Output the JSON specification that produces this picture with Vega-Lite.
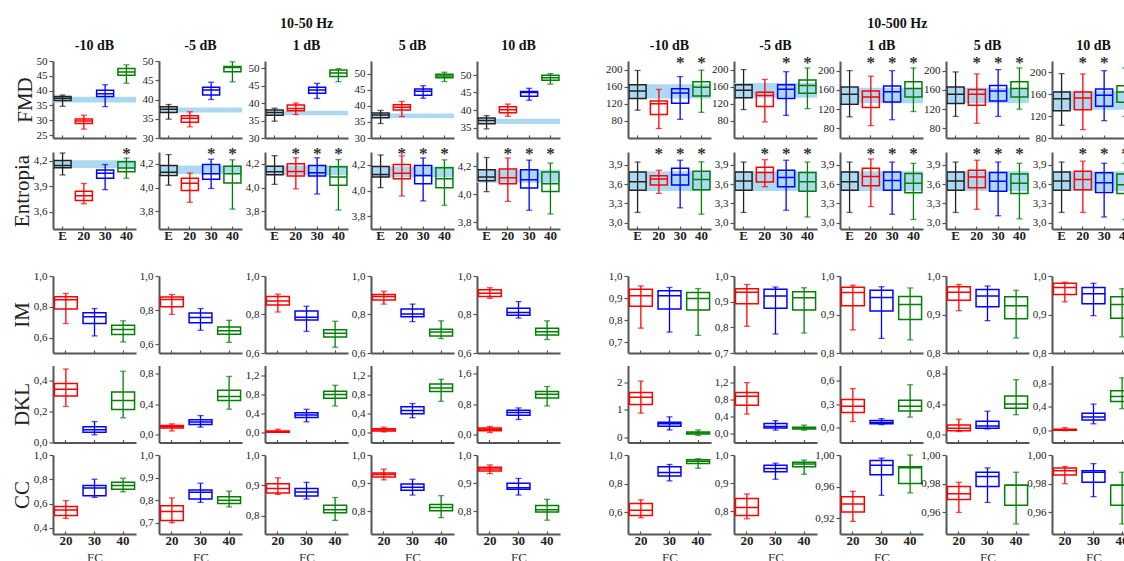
{
"$schema":"https://vega.github.io/schema/vega-lite/v6.json",
"padding":{"left":11,"top":17,"right":0,"bottom":0},
"config":{
 "locale":{"number":{"decimal":",","thousands":".","grouping":[3],"currency":["",""]}},
 "font":"Liberation Serif",
 "view":{"stroke":null},
 "legend":{"disable":true},
 "range":{"category":["#ff0000","#0000ff","#008000","#222222"]},
 "scale":{"bandPaddingInner":0.2,"bandPaddingOuter":0.05},
 "axis":{"grid":false,"domainColor":"#555555","domainWidth":2,"tickColor":"#555555","tickWidth":1.2,"labelFont":"Liberation Serif","labelColor":"#222222"},
 "axisY":{"tickSize":4,"tickCount":10,"labelFontSize":11,"labelPadding":2,"labelOverlap":false,"titleFont":"Liberation Serif","titleFontSize":21,"titleFontWeight":"normal","titleColor":"#222222","titlePadding":1},
 "axisX":{"tickSize":-3,"labelFontSize":13,"labelFontWeight":"bold","labelAngle":0,"labelPadding":3,"titleFont":"Liberation Serif","titleFontSize":13,"titleFontWeight":"normal","titlePadding":4,"titleColor":"#333333"},
 "title":{"font":"Liberation Serif","fontSize":14,"fontWeight":"bold","color":"#111111","offset":1},
 "rect":{"color":"#acd9f1"},
 "rule":{"strokeWidth":1.3},
 "tick":{"thickness":1.3},
 "bar":{"filled":false,"strokeWidth":1.5},
 "text":{"font":"Liberation Serif","fontSize":17,"fontWeight":"bold","baseline":"alphabetic","dy":7,"align":"center"}
},
"data":{"values":[
{"p":"aF1","c":"E","lo":34.7,"q1":36.7,"md":37.4,"q3":38,"hi":38.5,"b1":36,"b2":37.9,"st":""},
{"p":"aF1","c":"20","lo":27,"q1":28.9,"md":29.7,"q3":30.4,"hi":31.7,"st":""},
{"p":"aF1","c":"30","lo":34.6,"q1":38,"md":38.9,"q3":40.1,"hi":42,"st":""},
{"p":"aF1","c":"40","lo":42.5,"q1":45.2,"md":46.3,"q3":47.5,"hi":48.7,"st":""},
{"p":"aF2","c":"E","lo":34.9,"q1":36.6,"md":37.5,"q3":38.1,"hi":38.7,"b1":36.6,"b2":37.9,"st":""},
{"p":"aF2","c":"20","lo":32.9,"q1":34.1,"md":35.1,"q3":35.8,"hi":36.8,"st":""},
{"p":"aF2","c":"30","lo":40,"q1":41.2,"md":42.5,"q3":43.2,"hi":44.5,"st":""},
{"p":"aF2","c":"40","lo":44.6,"q1":47.2,"md":48.3,"q3":48.6,"hi":49.8,"st":""},
{"p":"aF3","c":"E","lo":34.8,"q1":36.5,"md":37.3,"q3":38,"hi":38.5,"b1":36.5,"b2":37.8,"st":""},
{"p":"aF3","c":"20","lo":36.7,"q1":37.8,"md":38.4,"q3":39.4,"hi":40,"st":""},
{"p":"aF3","c":"30","lo":41.3,"q1":42.8,"md":43.7,"q3":44.5,"hi":45.6,"st":""},
{"p":"aF3","c":"40","lo":46.1,"q1":47.6,"md":48.6,"q3":49.4,"hi":49.8,"st":""},
{"p":"aF4","c":"E","lo":34.5,"q1":36.3,"md":37.2,"q3":37.8,"hi":38.6,"b1":36.2,"b2":37.6,"st":""},
{"p":"aF4","c":"20","lo":36.7,"q1":38.7,"md":39.6,"q3":40.4,"hi":41.4,"st":""},
{"p":"aF4","c":"30","lo":42.4,"q1":43.3,"md":44.6,"q3":45.3,"hi":46.3,"st":""},
{"p":"aF4","c":"40","lo":47.6,"q1":48.8,"md":49.3,"q3":49.9,"hi":50.5,"st":""},
{"p":"aF5","c":"E","lo":34.6,"q1":36.1,"md":37,"q3":37.7,"hi":38.4,"b1":36,"b2":37.5,"st":""},
{"p":"aF5","c":"20","lo":38.2,"q1":39.2,"md":40.1,"q3":40.9,"hi":41.7,"st":""},
{"p":"aF5","c":"30","lo":42.8,"q1":43.9,"md":45,"q3":45.3,"hi":46.2,"st":""},
{"p":"aF5","c":"40","lo":47.4,"q1":48.5,"md":49.2,"q3":49.9,"hi":50.4,"st":""},
{"p":"aE1","c":"E","lo":4.032,"q1":4.116,"md":4.143,"q3":4.2,"hi":4.288,"b1":4.112,"b2":4.204,"st":""},
{"p":"aE1","c":"20","lo":3.695,"q1":3.734,"md":3.79,"q3":3.84,"hi":3.932,"st":""},
{"p":"aE1","c":"30","lo":3.86,"q1":3.994,"md":4.051,"q3":4.089,"hi":4.154,"st":""},
{"p":"aE1","c":"40","lo":3.994,"q1":4.07,"md":4.112,"q3":4.185,"hi":4.23,"st":"*"},
{"p":"aE2","c":"E","lo":4.02,"q1":4.101,"md":4.13,"q3":4.187,"hi":4.278,"b1":4.112,"b2":4.187,"st":""},
{"p":"aE2","c":"20","lo":3.875,"q1":3.974,"md":4.036,"q3":4.078,"hi":4.122,"st":""},
{"p":"aE2","c":"30","lo":3.992,"q1":4.07,"md":4.117,"q3":4.195,"hi":4.239,"st":"*"},
{"p":"aE2","c":"40","lo":3.818,"q1":4.039,"md":4.117,"q3":4.179,"hi":4.234,"st":"*"},
{"p":"aE3","c":"E","lo":4.027,"q1":4.108,"md":4.134,"q3":4.18,"hi":4.269,"b1":4.103,"b2":4.185,"st":""},
{"p":"aE3","c":"20","lo":3.989,"q1":4.098,"md":4.136,"q3":4.2,"hi":4.251,"st":"*"},
{"p":"aE3","c":"30","lo":3.945,"q1":4.098,"md":4.124,"q3":4.187,"hi":4.251,"st":"*"},
{"p":"aE3","c":"40","lo":3.81,"q1":4.019,"md":4.09,"q3":4.175,"hi":4.236,"st":"*"},
{"p":"aE4","c":"E","lo":4.022,"q1":4.105,"md":4.125,"q3":4.187,"hi":4.277,"b1":4.105,"b2":4.187,"st":""},
{"p":"aE4","c":"20","lo":3.957,"q1":4.092,"md":4.135,"q3":4.203,"hi":4.27,"st":"*"},
{"p":"aE4","c":"30","lo":3.919,"q1":4.053,"md":4.117,"q3":4.195,"hi":4.254,"st":"*"},
{"p":"aE4","c":"40","lo":3.885,"q1":4.022,"md":4.092,"q3":4.177,"hi":4.239,"st":"*"},
{"p":"aE5","c":"E","lo":4.017,"q1":4.095,"md":4.122,"q3":4.173,"hi":4.261,"b1":4.08,"b2":4.173,"st":""},
{"p":"aE5","c":"20","lo":3.947,"q1":4.074,"md":4.116,"q3":4.179,"hi":4.257,"st":"*"},
{"p":"aE5","c":"30","lo":3.884,"q1":4.042,"md":4.101,"q3":4.173,"hi":4.242,"st":"*"},
{"p":"aE5","c":"40","lo":3.857,"q1":4.017,"md":4.074,"q3":4.158,"hi":4.221,"st":"*"},
{"p":"aI1","c":"20","lo":0.691,"q1":0.785,"md":0.845,"q3":0.865,"hi":0.887},
{"p":"aI1","c":"30","lo":0.611,"q1":0.691,"md":0.735,"q3":0.761,"hi":0.789},
{"p":"aI1","c":"40","lo":0.572,"q1":0.62,"md":0.652,"q3":0.68,"hi":0.709},
{"p":"aI2","c":"20","lo":0.776,"q1":0.82,"md":0.863,"q3":0.878,"hi":0.892},
{"p":"aI2","c":"30","lo":0.683,"q1":0.727,"md":0.757,"q3":0.784,"hi":0.81},
{"p":"aI2","c":"40","lo":0.612,"q1":0.659,"md":0.68,"q3":0.702,"hi":0.741},
{"p":"aI3","c":"20","lo":0.813,"q1":0.849,"md":0.87,"q3":0.893,"hi":0.906},
{"p":"aI3","c":"30","lo":0.712,"q1":0.772,"md":0.786,"q3":0.818,"hi":0.843},
{"p":"aI3","c":"40","lo":0.63,"q1":0.683,"md":0.703,"q3":0.721,"hi":0.765},
{"p":"aI4","c":"20","lo":0.854,"q1":0.875,"md":0.893,"q3":0.904,"hi":0.921},
{"p":"aI4","c":"30","lo":0.763,"q1":0.788,"md":0.802,"q3":0.828,"hi":0.854},
{"p":"aI4","c":"40","lo":0.675,"q1":0.688,"md":0.709,"q3":0.723,"hi":0.767},
{"p":"aI5","c":"20","lo":0.884,"q1":0.893,"md":0.91,"q3":0.928,"hi":0.939},
{"p":"aI5","c":"30","lo":0.781,"q1":0.796,"md":0.811,"q3":0.832,"hi":0.867},
{"p":"aI5","c":"40","lo":0.67,"q1":0.693,"md":0.711,"q3":0.728,"hi":0.767},
{"p":"aD1","c":"20","lo":0.234,"q1":0.302,"md":0.345,"q3":0.383,"hi":0.477},
{"p":"aD1","c":"30","lo":0.05,"q1":0.066,"md":0.083,"q3":0.103,"hi":0.136},
{"p":"aD1","c":"40","lo":0.16,"q1":0.214,"md":0.273,"q3":0.328,"hi":0.463},
{"p":"aD2","c":"20","lo":0.05,"q1":0.088,"md":0.104,"q3":0.121,"hi":0.142},
{"p":"aD2","c":"30","lo":0.1,"q1":0.133,"md":0.167,"q3":0.196,"hi":0.25},
{"p":"aD2","c":"40","lo":0.333,"q1":0.446,"md":0.496,"q3":0.579,"hi":0.758},
{"p":"aD3","c":"20","lo":0.011,"q1":0.011,"md":0.023,"q3":0.04,"hi":0.074},
{"p":"aD3","c":"30","lo":0.229,"q1":0.32,"md":0.371,"q3":0.42,"hi":0.49},
{"p":"aD3","c":"40","lo":0.56,"q1":0.72,"md":0.8,"q3":0.863,"hi":0.989},
{"p":"aD4","c":"20","lo":0.02,"q1":0.039,"md":0.059,"q3":0.085,"hi":0.118},
{"p":"aD4","c":"30","lo":0.315,"q1":0.4,"md":0.466,"q3":0.544,"hi":0.61},
{"p":"aD4","c":"40","lo":0.656,"q1":0.859,"md":0.931,"q3":1.016,"hi":1.115},
{"p":"aD5","c":"20","lo":0.059,"q1":0.104,"md":0.141,"q3":0.179,"hi":0.217},
{"p":"aD5","c":"30","lo":0.397,"q1":0.51,"md":0.577,"q3":0.638,"hi":0.698},
{"p":"aD5","c":"40","lo":0.75,"q1":0.953,"md":1.051,"q3":1.126,"hi":1.254},
{"p":"aC1","c":"20","lo":0.478,"q1":0.503,"md":0.547,"q3":0.576,"hi":0.625},
{"p":"aC1","c":"30","lo":0.651,"q1":0.664,"md":0.728,"q3":0.749,"hi":0.801},
{"p":"aC1","c":"40","lo":0.697,"q1":0.718,"md":0.749,"q3":0.775,"hi":0.809},
{"p":"aC2","c":"20","lo":0.7,"q1":0.71,"md":0.75,"q3":0.775,"hi":0.81},
{"p":"aC2","c":"30","lo":0.79,"q1":0.805,"md":0.835,"q3":0.845,"hi":0.875},
{"p":"aC2","c":"40","lo":0.77,"q1":0.785,"md":0.8,"q3":0.815,"hi":0.84},
{"p":"aC3","c":"20","lo":0.87,"q1":0.875,"md":0.89,"q3":0.905,"hi":0.925},
{"p":"aC3","c":"30","lo":0.855,"q1":0.865,"md":0.878,"q3":0.89,"hi":0.91},
{"p":"aC3","c":"40","lo":0.785,"q1":0.81,"md":0.82,"q3":0.835,"hi":0.86},
{"p":"aC4","c":"20","lo":0.912,"q1":0.922,"md":0.931,"q3":0.936,"hi":0.95},
{"p":"aC4","c":"30","lo":0.858,"q1":0.875,"md":0.886,"q3":0.897,"hi":0.914},
{"p":"aC4","c":"40","lo":0.778,"q1":0.802,"md":0.814,"q3":0.825,"hi":0.856},
{"p":"aC5","c":"20","lo":0.934,"q1":0.943,"md":0.95,"q3":0.957,"hi":0.965},
{"p":"aC5","c":"30","lo":0.858,"q1":0.879,"md":0.884,"q3":0.9,"hi":0.917},
{"p":"aC5","c":"40","lo":0.769,"q1":0.798,"md":0.806,"q3":0.821,"hi":0.843},
{"p":"bF1","c":"E","lo":105,"q1":132.1,"md":150,"q3":164.3,"hi":197.9,"b1":132.1,"b2":165.7,"st":""},
{"p":"bF1","c":"20","lo":62.1,"q1":95,"md":120,"q3":126.4,"hi":153.6,"st":""},
{"p":"bF1","c":"30","lo":83.6,"q1":121.4,"md":145,"q3":155,"hi":183.6,"st":"*"},
{"p":"bF1","c":"40","lo":100,"q1":137.9,"md":158.6,"q3":171.4,"hi":198.6,"st":"*"},
{"p":"bF2","c":"E","lo":106.5,"q1":133.8,"md":151.8,"q3":164.7,"hi":200,"b1":133.8,"b2":168.3,"st":""},
{"p":"bF2","c":"20","lo":77.7,"q1":113.7,"md":139.6,"q3":146.8,"hi":177,"st":""},
{"p":"bF2","c":"30","lo":92.8,"q1":132.4,"md":154,"q3":164.7,"hi":195,"st":"*"},
{"p":"bF2","c":"40","lo":108.6,"q1":144.6,"md":162.6,"q3":175.5,"hi":203.6,"st":"*"},
{"p":"bF3","c":"E","lo":104,"q1":130.1,"md":150.7,"q3":165.8,"hi":200,"b1":132.2,"b2":164.4,"st":""},
{"p":"bF3","c":"20","lo":85.6,"q1":123.3,"md":145.2,"q3":157.5,"hi":188.4,"st":"*"},
{"p":"bF3","c":"30","lo":98,"q1":134.9,"md":156.2,"q3":167.8,"hi":200,"st":"*"},
{"p":"bF3","c":"40","lo":115,"q1":145.2,"md":163,"q3":176.7,"hi":205.5,"st":"*"},
{"p":"bF4","c":"E","lo":104.8,"q1":131.5,"md":150.7,"q3":165.8,"hi":197.3,"b1":132.2,"b2":164.4,"st":""},
{"p":"bF4","c":"20","lo":90.4,"q1":128.1,"md":150.7,"q3":161,"hi":193.2,"st":"*"},
{"p":"bF4","c":"30","lo":104.8,"q1":137,"md":157.5,"q3":169.2,"hi":202,"st":"*"},
{"p":"bF4","c":"40","lo":119.9,"q1":145.2,"md":163,"q3":176.7,"hi":205.5,"st":"*"},
{"p":"bF5","c":"E","lo":103,"q1":129.7,"md":151.5,"q3":163.6,"hi":197,"b1":131.5,"b2":166,"st":""},
{"p":"bF5","c":"20","lo":95.2,"q1":131.5,"md":152.7,"q3":163.6,"hi":196.4,"st":"*"},
{"p":"bF5","c":"30","lo":111.5,"q1":137.6,"md":157.6,"q3":169,"hi":202.4,"st":"*"},
{"p":"bF5","c":"40","lo":119.4,"q1":144.8,"md":163.6,"q3":175.2,"hi":207.3,"st":""},
{"p":"bE1","c":"E","lo":3.158,"q1":3.503,"md":3.637,"q3":3.79,"hi":3.943,"b1":3.493,"b2":3.8,"st":""},
{"p":"bE1","c":"20","lo":3.455,"q1":3.584,"md":3.68,"q3":3.728,"hi":3.814,"st":"*"},
{"p":"bE1","c":"30","lo":3.23,"q1":3.584,"md":3.742,"q3":3.847,"hi":3.972,"st":"*"},
{"p":"bE1","c":"40","lo":3.13,"q1":3.512,"md":3.67,"q3":3.8,"hi":3.948,"st":"*"},
{"p":"bE2","c":"E","lo":3.158,"q1":3.503,"md":3.647,"q3":3.79,"hi":3.943,"b1":3.493,"b2":3.8,"st":""},
{"p":"bE2","c":"20","lo":3.56,"q1":3.632,"md":3.78,"q3":3.862,"hi":3.98,"st":"*"},
{"p":"bE2","c":"30","lo":3.192,"q1":3.56,"md":3.704,"q3":3.814,"hi":3.972,"st":"*"},
{"p":"bE2","c":"40","lo":3.087,"q1":3.489,"md":3.637,"q3":3.78,"hi":3.943,"st":"*"},
{"p":"bE3","c":"E","lo":3.158,"q1":3.503,"md":3.637,"q3":3.79,"hi":3.943,"b1":3.493,"b2":3.8,"st":""},
{"p":"bE3","c":"20","lo":3.249,"q1":3.575,"md":3.718,"q3":3.847,"hi":3.991,"st":"*"},
{"p":"bE3","c":"30","lo":3.13,"q1":3.503,"md":3.656,"q3":3.79,"hi":3.943,"st":"*"},
{"p":"bE3","c":"40","lo":3.048,"q1":3.465,"md":3.613,"q3":3.766,"hi":3.924,"st":"*"},
{"p":"bE4","c":"E","lo":3.158,"q1":3.503,"md":3.647,"q3":3.79,"hi":3.943,"b1":3.493,"b2":3.8,"st":""},
{"p":"bE4","c":"20","lo":3.206,"q1":3.541,"md":3.709,"q3":3.814,"hi":3.972,"st":"*"},
{"p":"bE4","c":"30","lo":3.106,"q1":3.489,"md":3.646,"q3":3.78,"hi":3.943,"st":"*"},
{"p":"bE4","c":"40","lo":3.058,"q1":3.455,"md":3.613,"q3":3.756,"hi":3.924,"st":"*"},
{"p":"bE5","c":"E","lo":3.158,"q1":3.503,"md":3.647,"q3":3.79,"hi":3.943,"b1":3.493,"b2":3.8,"st":""},
{"p":"bE5","c":"20","lo":3.158,"q1":3.512,"md":3.67,"q3":3.8,"hi":3.957,"st":"*"},
{"p":"bE5","c":"30","lo":3.087,"q1":3.469,"md":3.622,"q3":3.776,"hi":3.924,"st":"*"},
{"p":"bE5","c":"40","lo":3.048,"q1":3.455,"md":3.589,"q3":3.756,"hi":3.924,"st":"*"},
{"p":"bI1","c":"20","lo":0.763,"q1":0.862,"md":0.91,"q3":0.94,"hi":0.955},
{"p":"bI1","c":"30","lo":0.745,"q1":0.85,"md":0.91,"q3":0.933,"hi":0.948},
{"p":"bI1","c":"40","lo":0.73,"q1":0.846,"md":0.898,"q3":0.925,"hi":0.943},
{"p":"bI2","c":"20","lo":0.804,"q1":0.892,"md":0.937,"q3":0.95,"hi":0.967},
{"p":"bI2","c":"30","lo":0.774,"q1":0.874,"md":0.922,"q3":0.948,"hi":0.957},
{"p":"bI2","c":"40","lo":0.778,"q1":0.868,"md":0.915,"q3":0.939,"hi":0.954},
{"p":"bI3","c":"20","lo":0.86,"q1":0.923,"md":0.957,"q3":0.971,"hi":0.976},
{"p":"bI3","c":"30","lo":0.838,"q1":0.909,"md":0.944,"q3":0.963,"hi":0.972},
{"p":"bI3","c":"40","lo":0.834,"q1":0.887,"md":0.926,"q3":0.947,"hi":0.969},
{"p":"bI4","c":"20","lo":0.91,"q1":0.937,"md":0.958,"q3":0.972,"hi":0.978},
{"p":"bI4","c":"30","lo":0.884,"q1":0.92,"md":0.948,"q3":0.965,"hi":0.974},
{"p":"bI4","c":"40","lo":0.839,"q1":0.889,"md":0.923,"q3":0.946,"hi":0.963},
{"p":"bI5","c":"20","lo":0.933,"q1":0.952,"md":0.97,"q3":0.981,"hi":0.984},
{"p":"bI5","c":"30","lo":0.897,"q1":0.928,"md":0.954,"q3":0.97,"hi":0.981},
{"p":"bI5","c":"40","lo":0.842,"q1":0.89,"md":0.926,"q3":0.946,"hi":0.967},
{"p":"bD1","c":"20","lo":0.867,"q1":1.178,"md":1.444,"q3":1.622,"hi":2.033},
{"p":"bD1","c":"30","lo":0.256,"q1":0.389,"md":0.478,"q3":0.533,"hi":0.733},
{"p":"bD1","c":"40","lo":0.056,"q1":0.111,"md":0.144,"q3":0.178,"hi":0.256},
{"p":"bD2","c":"20","lo":0.464,"q1":0.672,"md":0.881,"q3":0.971,"hi":1.2},
{"p":"bD2","c":"30","lo":0.089,"q1":0.138,"md":0.172,"q3":0.242,"hi":0.311},
{"p":"bD2","c":"40","lo":0.089,"q1":0.117,"md":0.138,"q3":0.158,"hi":0.207},
{"p":"bD3","c":"20","lo":0.072,"q1":0.19,"md":0.27,"q3":0.36,"hi":0.5},
{"p":"bD3","c":"30","lo":0.032,"q1":0.045,"md":0.06,"q3":0.085,"hi":0.11},
{"p":"bD3","c":"40","lo":0.13,"q1":0.21,"md":0.27,"q3":0.35,"hi":0.55},
{"p":"bD4","c":"20","lo":0.042,"q1":0.051,"md":0.084,"q3":0.126,"hi":0.202},
{"p":"bD4","c":"30","lo":0.076,"q1":0.084,"md":0.114,"q3":0.177,"hi":0.307},
{"p":"bD4","c":"40","lo":0.261,"q1":0.345,"md":0.4,"q3":0.505,"hi":0.716},
{"p":"bD5","c":"20","lo":0,"q1":0.005,"md":0.014,"q3":0.024,"hi":0.05},
{"p":"bD5","c":"30","lo":0.116,"q1":0.178,"md":0.229,"q3":0.295,"hi":0.448},
{"p":"bD5","c":"40","lo":0.371,"q1":0.494,"md":0.576,"q3":0.672,"hi":0.892},
{"p":"bC1","c":"20","lo":0.563,"q1":0.578,"md":0.615,"q3":0.662,"hi":0.688},
{"p":"bC1","c":"30","lo":0.82,"q1":0.853,"md":0.879,"q3":0.919,"hi":0.934},
{"p":"bC1","c":"40","lo":0.908,"q1":0.941,"md":0.956,"q3":0.967,"hi":0.974},
{"p":"bC2","c":"20","lo":0.774,"q1":0.786,"md":0.814,"q3":0.846,"hi":0.862},
{"p":"bC2","c":"30","lo":0.914,"q1":0.941,"md":0.952,"q3":0.964,"hi":0.971},
{"p":"bC2","c":"40","lo":0.932,"q1":0.958,"md":0.968,"q3":0.974,"hi":0.982},
{"p":"bC3","c":"20","lo":0.916,"q1":0.928,"md":0.938,"q3":0.947,"hi":0.954},
{"p":"bC3","c":"30","lo":0.949,"q1":0.975,"md":0.987,"q3":0.993,"hi":0.996},
{"p":"bC3","c":"40","lo":0.952,"q1":0.964,"md":0.984,"q3":0.985,"hi":1.0},
{"p":"bC4","c":"20","lo":0.96,"q1":0.969,"md":0.973,"q3":0.978,"hi":0.981},
{"p":"bC4","c":"30","lo":0.967,"q1":0.978,"md":0.985,"q3":0.988,"hi":0.991},
{"p":"bC4","c":"40","lo":0.952,"q1":0.965,"md":0.979,"q3":0.979,"hi":0.988},
{"p":"bC5","c":"20","lo":0.98,"q1":0.986,"md":0.989,"q3":0.991,"hi":0.992},
{"p":"bC5","c":"30","lo":0.971,"q1":0.981,"md":0.988,"q3":0.989,"hi":0.994},
{"p":"bC5","c":"40","lo":0.952,"q1":0.965,"md":0.979,"q3":0.979,"hi":0.988}
]},
"spacing":45,
"hconcat":[
{"title":{"text":"10-50 Hz","anchor":"middle","offset":8,"dx":21},"spacing":28,"vconcat":[
{"columns":5,"bounds":"flush","spacing":{"row":14,"column":23},"concat":[
{"width":83,"height":77,"title":"-10 dB","transform":[{"filter":"datum.p=='aF1'"}],"layer":[{"mark":"rect","encoding":{"y":{"field":"b1","type":"quantitative","scale":{"domain":[25,50]},"axis":{"values":[25,30,35,40,45,50],"tickCount":10,"format":"d","title":"FMD"}},"y2":{"field":"b2"}}},{"encoding":{"x":{"field":"c","type":"nominal","sort":null,"axis":{"labels":false,"title":null}},"color":{"field":"c"}},"layer":[{"mark":"rule","encoding":{"y":{"field":"lo","type":"quantitative"},"y2":{"field":"hi"}}},{"mark":"tick","encoding":{"y":{"field":"lo","type":"quantitative"},"size":{"value":6}}},{"mark":"tick","encoding":{"y":{"field":"hi","type":"quantitative"},"size":{"value":6}}},{"mark":"bar","encoding":{"y":{"field":"q1","type":"quantitative"},"y2":{"field":"q3"}}},{"mark":"bar","encoding":{"y":{"field":"md","type":"quantitative"},"y2":{"field":"md"}}},{"mark":"text","encoding":{"y":{"value":0},"text":{"field":"st"},"color":{"value":"#333333"}}}]}]},
{"width":83,"height":77,"title":"-5 dB","transform":[{"filter":"datum.p=='aF2'"}],"layer":[{"mark":"rect","encoding":{"y":{"field":"b1","type":"quantitative","scale":{"domain":[30,50]},"axis":{"values":[30,35,40,45,50],"tickCount":10,"format":"d","title":null}},"y2":{"field":"b2"}}},{"encoding":{"x":{"field":"c","type":"nominal","sort":null,"axis":{"labels":false,"title":null}},"color":{"field":"c"}},"layer":[{"mark":"rule","encoding":{"y":{"field":"lo","type":"quantitative"},"y2":{"field":"hi"}}},{"mark":"tick","encoding":{"y":{"field":"lo","type":"quantitative"},"size":{"value":6}}},{"mark":"tick","encoding":{"y":{"field":"hi","type":"quantitative"},"size":{"value":6}}},{"mark":"bar","encoding":{"y":{"field":"q1","type":"quantitative"},"y2":{"field":"q3"}}},{"mark":"bar","encoding":{"y":{"field":"md","type":"quantitative"},"y2":{"field":"md"}}},{"mark":"text","encoding":{"y":{"value":0},"text":{"field":"st"},"color":{"value":"#333333"}}}]}]},
{"width":83,"height":77,"title":"1 dB","transform":[{"filter":"datum.p=='aF3'"}],"layer":[{"mark":"rect","encoding":{"y":{"field":"b1","type":"quantitative","scale":{"domain":[30,50.4]},"axis":{"values":[30,35,40,45,50],"tickCount":10,"format":"d","title":null}},"y2":{"field":"b2"}}},{"encoding":{"x":{"field":"c","type":"nominal","sort":null,"axis":{"labels":false,"title":null}},"color":{"field":"c"}},"layer":[{"mark":"rule","encoding":{"y":{"field":"lo","type":"quantitative"},"y2":{"field":"hi"}}},{"mark":"tick","encoding":{"y":{"field":"lo","type":"quantitative"},"size":{"value":6}}},{"mark":"tick","encoding":{"y":{"field":"hi","type":"quantitative"},"size":{"value":6}}},{"mark":"bar","encoding":{"y":{"field":"q1","type":"quantitative"},"y2":{"field":"q3"}}},{"mark":"bar","encoding":{"y":{"field":"md","type":"quantitative"},"y2":{"field":"md"}}},{"mark":"text","encoding":{"y":{"value":0},"text":{"field":"st"},"color":{"value":"#333333"}}}]}]},
{"width":83,"height":77,"title":"5 dB","transform":[{"filter":"datum.p=='aF4'"}],"layer":[{"mark":"rect","encoding":{"y":{"field":"b1","type":"quantitative","scale":{"domain":[30,52.5]},"axis":{"values":[30,35,40,45,50],"tickCount":10,"format":"d","title":null}},"y2":{"field":"b2"}}},{"encoding":{"x":{"field":"c","type":"nominal","sort":null,"axis":{"labels":false,"title":null}},"color":{"field":"c"}},"layer":[{"mark":"rule","encoding":{"y":{"field":"lo","type":"quantitative"},"y2":{"field":"hi"}}},{"mark":"tick","encoding":{"y":{"field":"lo","type":"quantitative"},"size":{"value":6}}},{"mark":"tick","encoding":{"y":{"field":"hi","type":"quantitative"},"size":{"value":6}}},{"mark":"bar","encoding":{"y":{"field":"q1","type":"quantitative"},"y2":{"field":"q3"}}},{"mark":"bar","encoding":{"y":{"field":"md","type":"quantitative"},"y2":{"field":"md"}}},{"mark":"text","encoding":{"y":{"value":0},"text":{"field":"st"},"color":{"value":"#333333"}}}]}]},
{"width":83,"height":77,"title":"10 dB","transform":[{"filter":"datum.p=='aF5'"}],"layer":[{"mark":"rect","encoding":{"y":{"field":"b1","type":"quantitative","scale":{"domain":[33,52.3]},"axis":{"values":[35,40,45,50],"tickCount":10,"format":"d","title":null}},"y2":{"field":"b2"}}},{"encoding":{"x":{"field":"c","type":"nominal","sort":null,"axis":{"labels":false,"title":null}},"color":{"field":"c"}},"layer":[{"mark":"rule","encoding":{"y":{"field":"lo","type":"quantitative"},"y2":{"field":"hi"}}},{"mark":"tick","encoding":{"y":{"field":"lo","type":"quantitative"},"size":{"value":6}}},{"mark":"tick","encoding":{"y":{"field":"hi","type":"quantitative"},"size":{"value":6}}},{"mark":"bar","encoding":{"y":{"field":"q1","type":"quantitative"},"y2":{"field":"q3"}}},{"mark":"bar","encoding":{"y":{"field":"md","type":"quantitative"},"y2":{"field":"md"}}},{"mark":"text","encoding":{"y":{"value":0},"text":{"field":"st"},"color":{"value":"#333333"}}}]}]},
{"width":83,"height":77,"transform":[{"filter":"datum.p=='aE1'"}],"layer":[{"mark":"rect","encoding":{"y":{"field":"b1","type":"quantitative","scale":{"domain":[3.42,4.3]},"axis":{"values":[3.6,3.9,4.2],"tickCount":10,"format":".1f","title":"Entropia"}},"y2":{"field":"b2"}}},{"encoding":{"x":{"field":"c","type":"nominal","sort":null,"axis":{"title":null}},"color":{"field":"c"}},"layer":[{"mark":"rule","encoding":{"y":{"field":"lo","type":"quantitative"},"y2":{"field":"hi"}}},{"mark":"tick","encoding":{"y":{"field":"lo","type":"quantitative"},"size":{"value":6}}},{"mark":"tick","encoding":{"y":{"field":"hi","type":"quantitative"},"size":{"value":6}}},{"mark":"bar","encoding":{"y":{"field":"q1","type":"quantitative"},"y2":{"field":"q3"}}},{"mark":"bar","encoding":{"y":{"field":"md","type":"quantitative"},"y2":{"field":"md"}}},{"mark":"text","encoding":{"y":{"value":0},"text":{"field":"st"},"color":{"value":"#333333"}}}]}]},
{"width":83,"height":77,"transform":[{"filter":"datum.p=='aE2'"}],"layer":[{"mark":"rect","encoding":{"y":{"field":"b1","type":"quantitative","scale":{"domain":[3.69,4.29]},"axis":{"values":[3.8,4.0,4.2],"tickCount":10,"format":".1f","title":null}},"y2":{"field":"b2"}}},{"encoding":{"x":{"field":"c","type":"nominal","sort":null,"axis":{"title":null}},"color":{"field":"c"}},"layer":[{"mark":"rule","encoding":{"y":{"field":"lo","type":"quantitative"},"y2":{"field":"hi"}}},{"mark":"tick","encoding":{"y":{"field":"lo","type":"quantitative"},"size":{"value":6}}},{"mark":"tick","encoding":{"y":{"field":"hi","type":"quantitative"},"size":{"value":6}}},{"mark":"bar","encoding":{"y":{"field":"q1","type":"quantitative"},"y2":{"field":"q3"}}},{"mark":"bar","encoding":{"y":{"field":"md","type":"quantitative"},"y2":{"field":"md"}}},{"mark":"text","encoding":{"y":{"value":0},"text":{"field":"st"},"color":{"value":"#333333"}}}]}]},
{"width":83,"height":77,"transform":[{"filter":"datum.p=='aE3'"}],"layer":[{"mark":"rect","encoding":{"y":{"field":"b1","type":"quantitative","scale":{"domain":[3.68,4.28]},"axis":{"values":[3.8,4.0,4.2],"tickCount":10,"format":".1f","title":null}},"y2":{"field":"b2"}}},{"encoding":{"x":{"field":"c","type":"nominal","sort":null,"axis":{"title":null}},"color":{"field":"c"}},"layer":[{"mark":"rule","encoding":{"y":{"field":"lo","type":"quantitative"},"y2":{"field":"hi"}}},{"mark":"tick","encoding":{"y":{"field":"lo","type":"quantitative"},"size":{"value":6}}},{"mark":"tick","encoding":{"y":{"field":"hi","type":"quantitative"},"size":{"value":6}}},{"mark":"bar","encoding":{"y":{"field":"q1","type":"quantitative"},"y2":{"field":"q3"}}},{"mark":"bar","encoding":{"y":{"field":"md","type":"quantitative"},"y2":{"field":"md"}}},{"mark":"text","encoding":{"y":{"value":0},"text":{"field":"st"},"color":{"value":"#333333"}}}]}]},
{"width":83,"height":77,"transform":[{"filter":"datum.p=='aE4'"}],"layer":[{"mark":"rect","encoding":{"y":{"field":"b1","type":"quantitative","scale":{"domain":[3.7,4.3]},"axis":{"values":[3.8,4.0,4.2],"tickCount":10,"format":".1f","title":null}},"y2":{"field":"b2"}}},{"encoding":{"x":{"field":"c","type":"nominal","sort":null,"axis":{"title":null}},"color":{"field":"c"}},"layer":[{"mark":"rule","encoding":{"y":{"field":"lo","type":"quantitative"},"y2":{"field":"hi"}}},{"mark":"tick","encoding":{"y":{"field":"lo","type":"quantitative"},"size":{"value":6}}},{"mark":"tick","encoding":{"y":{"field":"hi","type":"quantitative"},"size":{"value":6}}},{"mark":"bar","encoding":{"y":{"field":"q1","type":"quantitative"},"y2":{"field":"q3"}}},{"mark":"bar","encoding":{"y":{"field":"md","type":"quantitative"},"y2":{"field":"md"}}},{"mark":"text","encoding":{"y":{"value":0},"text":{"field":"st"},"color":{"value":"#333333"}}}]}]},
{"width":83,"height":77,"transform":[{"filter":"datum.p=='aE5'"}],"layer":[{"mark":"rect","encoding":{"y":{"field":"b1","type":"quantitative","scale":{"domain":[3.79,4.28]},"axis":{"values":[3.8,4.0,4.2],"tickCount":10,"format":".1f","title":null}},"y2":{"field":"b2"}}},{"encoding":{"x":{"field":"c","type":"nominal","sort":null,"axis":{"title":null}},"color":{"field":"c"}},"layer":[{"mark":"rule","encoding":{"y":{"field":"lo","type":"quantitative"},"y2":{"field":"hi"}}},{"mark":"tick","encoding":{"y":{"field":"lo","type":"quantitative"},"size":{"value":6}}},{"mark":"tick","encoding":{"y":{"field":"hi","type":"quantitative"},"size":{"value":6}}},{"mark":"bar","encoding":{"y":{"field":"q1","type":"quantitative"},"y2":{"field":"q3"}}},{"mark":"bar","encoding":{"y":{"field":"md","type":"quantitative"},"y2":{"field":"md"}}},{"mark":"text","encoding":{"y":{"value":0},"text":{"field":"st"},"color":{"value":"#333333"}}}]}]}
]},
{"columns":5,"bounds":"flush","spacing":{"row":12.5,"column":23},"concat":[
{"width":83,"height":77,"transform":[{"filter":"datum.p=='aI1'"}],"encoding":{"x":{"field":"c","type":"nominal","sort":null,"axis":{"labels":false,"title":null}},"color":{"field":"c"}},"layer":[{"mark":"rule","encoding":{"y":{"field":"lo","type":"quantitative","scale":{"domain":[0.5,1.0]},"axis":{"values":[0.6,0.8,1.0],"tickCount":10,"format":".1f","title":"IM"}},"y2":{"field":"hi"}}},{"mark":"tick","encoding":{"y":{"field":"lo","type":"quantitative"},"size":{"value":6}}},{"mark":"tick","encoding":{"y":{"field":"hi","type":"quantitative"},"size":{"value":6}}},{"mark":"bar","encoding":{"y":{"field":"q1","type":"quantitative"},"y2":{"field":"q3"}}},{"mark":"bar","encoding":{"y":{"field":"md","type":"quantitative"},"y2":{"field":"md"}}}]},
{"width":83,"height":77,"transform":[{"filter":"datum.p=='aI2'"}],"encoding":{"x":{"field":"c","type":"nominal","sort":null,"axis":{"labels":false,"title":null}},"color":{"field":"c"}},"layer":[{"mark":"rule","encoding":{"y":{"field":"lo","type":"quantitative","scale":{"domain":[0.55,1.0]},"axis":{"values":[0.6,0.8,1.0],"tickCount":10,"format":".1f","title":null}},"y2":{"field":"hi"}}},{"mark":"tick","encoding":{"y":{"field":"lo","type":"quantitative"},"size":{"value":6}}},{"mark":"tick","encoding":{"y":{"field":"hi","type":"quantitative"},"size":{"value":6}}},{"mark":"bar","encoding":{"y":{"field":"q1","type":"quantitative"},"y2":{"field":"q3"}}},{"mark":"bar","encoding":{"y":{"field":"md","type":"quantitative"},"y2":{"field":"md"}}}]},
{"width":83,"height":77,"transform":[{"filter":"datum.p=='aI3'"}],"encoding":{"x":{"field":"c","type":"nominal","sort":null,"axis":{"labels":false,"title":null}},"color":{"field":"c"}},"layer":[{"mark":"rule","encoding":{"y":{"field":"lo","type":"quantitative","scale":{"domain":[0.6,1.0]},"axis":{"values":[0.6,0.8,1.0],"tickCount":10,"format":".1f","title":null}},"y2":{"field":"hi"}}},{"mark":"tick","encoding":{"y":{"field":"lo","type":"quantitative"},"size":{"value":6}}},{"mark":"tick","encoding":{"y":{"field":"hi","type":"quantitative"},"size":{"value":6}}},{"mark":"bar","encoding":{"y":{"field":"q1","type":"quantitative"},"y2":{"field":"q3"}}},{"mark":"bar","encoding":{"y":{"field":"md","type":"quantitative"},"y2":{"field":"md"}}}]},
{"width":83,"height":77,"transform":[{"filter":"datum.p=='aI4'"}],"encoding":{"x":{"field":"c","type":"nominal","sort":null,"axis":{"labels":false,"title":null}},"color":{"field":"c"}},"layer":[{"mark":"rule","encoding":{"y":{"field":"lo","type":"quantitative","scale":{"domain":[0.6,1.0]},"axis":{"values":[0.6,0.8,1.0],"tickCount":10,"format":".1f","title":null}},"y2":{"field":"hi"}}},{"mark":"tick","encoding":{"y":{"field":"lo","type":"quantitative"},"size":{"value":6}}},{"mark":"tick","encoding":{"y":{"field":"hi","type":"quantitative"},"size":{"value":6}}},{"mark":"bar","encoding":{"y":{"field":"q1","type":"quantitative"},"y2":{"field":"q3"}}},{"mark":"bar","encoding":{"y":{"field":"md","type":"quantitative"},"y2":{"field":"md"}}}]},
{"width":83,"height":77,"transform":[{"filter":"datum.p=='aI5'"}],"encoding":{"x":{"field":"c","type":"nominal","sort":null,"axis":{"labels":false,"title":null}},"color":{"field":"c"}},"layer":[{"mark":"rule","encoding":{"y":{"field":"lo","type":"quantitative","scale":{"domain":[0.6,1.0]},"axis":{"values":[0.6,0.8,1.0],"tickCount":10,"format":".1f","title":null}},"y2":{"field":"hi"}}},{"mark":"tick","encoding":{"y":{"field":"lo","type":"quantitative"},"size":{"value":6}}},{"mark":"tick","encoding":{"y":{"field":"hi","type":"quantitative"},"size":{"value":6}}},{"mark":"bar","encoding":{"y":{"field":"q1","type":"quantitative"},"y2":{"field":"q3"}}},{"mark":"bar","encoding":{"y":{"field":"md","type":"quantitative"},"y2":{"field":"md"}}}]},
{"width":83,"height":77,"transform":[{"filter":"datum.p=='aD1'"}],"encoding":{"x":{"field":"c","type":"nominal","sort":null,"axis":{"labels":false,"title":null}},"color":{"field":"c"}},"layer":[{"mark":"rule","encoding":{"y":{"field":"lo","type":"quantitative","scale":{"domain":[0,0.5]},"axis":{"values":[0,0.2,0.4],"tickCount":10,"format":".1f","title":"DKL"}},"y2":{"field":"hi"}}},{"mark":"tick","encoding":{"y":{"field":"lo","type":"quantitative"},"size":{"value":6}}},{"mark":"tick","encoding":{"y":{"field":"hi","type":"quantitative"},"size":{"value":6}}},{"mark":"bar","encoding":{"y":{"field":"q1","type":"quantitative"},"y2":{"field":"q3"}}},{"mark":"bar","encoding":{"y":{"field":"md","type":"quantitative"},"y2":{"field":"md"}}}]},
{"width":83,"height":77,"transform":[{"filter":"datum.p=='aD2'"}],"encoding":{"x":{"field":"c","type":"nominal","sort":null,"axis":{"labels":false,"title":null}},"color":{"field":"c"}},"layer":[{"mark":"rule","encoding":{"y":{"field":"lo","type":"quantitative","scale":{"domain":[-0.08,0.88]},"axis":{"values":[0,0.4,0.8],"tickCount":10,"format":".1f","title":null}},"y2":{"field":"hi"}}},{"mark":"tick","encoding":{"y":{"field":"lo","type":"quantitative"},"size":{"value":6}}},{"mark":"tick","encoding":{"y":{"field":"hi","type":"quantitative"},"size":{"value":6}}},{"mark":"bar","encoding":{"y":{"field":"q1","type":"quantitative"},"y2":{"field":"q3"}}},{"mark":"bar","encoding":{"y":{"field":"md","type":"quantitative"},"y2":{"field":"md"}}}]},
{"width":83,"height":77,"transform":[{"filter":"datum.p=='aD3'"}],"encoding":{"x":{"field":"c","type":"nominal","sort":null,"axis":{"labels":false,"title":null}},"color":{"field":"c"}},"layer":[{"mark":"rule","encoding":{"y":{"field":"lo","type":"quantitative","scale":{"domain":[-0.11,1.22]},"axis":{"values":[0,0.4,0.8,1.2],"tickCount":10,"format":".1f","title":null}},"y2":{"field":"hi"}}},{"mark":"tick","encoding":{"y":{"field":"lo","type":"quantitative"},"size":{"value":6}}},{"mark":"tick","encoding":{"y":{"field":"hi","type":"quantitative"},"size":{"value":6}}},{"mark":"bar","encoding":{"y":{"field":"q1","type":"quantitative"},"y2":{"field":"q3"}}},{"mark":"bar","encoding":{"y":{"field":"md","type":"quantitative"},"y2":{"field":"md"}}}]},
{"width":83,"height":77,"transform":[{"filter":"datum.p=='aD4'"}],"encoding":{"x":{"field":"c","type":"nominal","sort":null,"axis":{"labels":false,"title":null}},"color":{"field":"c"}},"layer":[{"mark":"rule","encoding":{"y":{"field":"lo","type":"quantitative","scale":{"domain":[-0.125,1.4]},"axis":{"values":[0,0.4,0.8,1.2],"tickCount":10,"format":".1f","title":null}},"y2":{"field":"hi"}}},{"mark":"tick","encoding":{"y":{"field":"lo","type":"quantitative"},"size":{"value":6}}},{"mark":"tick","encoding":{"y":{"field":"hi","type":"quantitative"},"size":{"value":6}}},{"mark":"bar","encoding":{"y":{"field":"q1","type":"quantitative"},"y2":{"field":"q3"}}},{"mark":"bar","encoding":{"y":{"field":"md","type":"quantitative"},"y2":{"field":"md"}}}]},
{"width":83,"height":77,"transform":[{"filter":"datum.p=='aD5'"}],"encoding":{"x":{"field":"c","type":"nominal","sort":null,"axis":{"labels":false,"title":null}},"color":{"field":"c"}},"layer":[{"mark":"rule","encoding":{"y":{"field":"lo","type":"quantitative","scale":{"domain":[-0.13,1.62]},"axis":{"values":[0,0.8,1.6],"tickCount":10,"format":".1f","title":null}},"y2":{"field":"hi"}}},{"mark":"tick","encoding":{"y":{"field":"lo","type":"quantitative"},"size":{"value":6}}},{"mark":"tick","encoding":{"y":{"field":"hi","type":"quantitative"},"size":{"value":6}}},{"mark":"bar","encoding":{"y":{"field":"q1","type":"quantitative"},"y2":{"field":"q3"}}},{"mark":"bar","encoding":{"y":{"field":"md","type":"quantitative"},"y2":{"field":"md"}}}]},
{"width":83,"height":79,"transform":[{"filter":"datum.p=='aC1'"}],"encoding":{"x":{"field":"c","type":"nominal","sort":null,"axis":{"title":"FC"}},"color":{"field":"c"}},"layer":[{"mark":"rule","encoding":{"y":{"field":"lo","type":"quantitative","scale":{"domain":[0.39,1.0]},"axis":{"values":[0.4,0.6,0.8,1.0],"tickCount":10,"format":".1f","title":"CC"}},"y2":{"field":"hi"}}},{"mark":"tick","encoding":{"y":{"field":"lo","type":"quantitative"},"size":{"value":6}}},{"mark":"tick","encoding":{"y":{"field":"hi","type":"quantitative"},"size":{"value":6}}},{"mark":"bar","encoding":{"y":{"field":"q1","type":"quantitative"},"y2":{"field":"q3"}}},{"mark":"bar","encoding":{"y":{"field":"md","type":"quantitative"},"y2":{"field":"md"}}}]},
{"width":83,"height":79,"transform":[{"filter":"datum.p=='aC2'"}],"encoding":{"x":{"field":"c","type":"nominal","sort":null,"axis":{"title":"FC"}},"color":{"field":"c"}},"layer":[{"mark":"rule","encoding":{"y":{"field":"lo","type":"quantitative","scale":{"domain":[0.67,1.0]},"axis":{"values":[0.7,0.8,0.9,1.0],"tickCount":10,"format":".1f","title":null}},"y2":{"field":"hi"}}},{"mark":"tick","encoding":{"y":{"field":"lo","type":"quantitative"},"size":{"value":6}}},{"mark":"tick","encoding":{"y":{"field":"hi","type":"quantitative"},"size":{"value":6}}},{"mark":"bar","encoding":{"y":{"field":"q1","type":"quantitative"},"y2":{"field":"q3"}}},{"mark":"bar","encoding":{"y":{"field":"md","type":"quantitative"},"y2":{"field":"md"}}}]},
{"width":83,"height":79,"transform":[{"filter":"datum.p=='aC3'"}],"encoding":{"x":{"field":"c","type":"nominal","sort":null,"axis":{"title":"FC"}},"color":{"field":"c"}},"layer":[{"mark":"rule","encoding":{"y":{"field":"lo","type":"quantitative","scale":{"domain":[0.75,1.0]},"axis":{"values":[0.8,0.9,1.0],"tickCount":10,"format":".1f","title":null}},"y2":{"field":"hi"}}},{"mark":"tick","encoding":{"y":{"field":"lo","type":"quantitative"},"size":{"value":6}}},{"mark":"tick","encoding":{"y":{"field":"hi","type":"quantitative"},"size":{"value":6}}},{"mark":"bar","encoding":{"y":{"field":"q1","type":"quantitative"},"y2":{"field":"q3"}}},{"mark":"bar","encoding":{"y":{"field":"md","type":"quantitative"},"y2":{"field":"md"}}}]},
{"width":83,"height":79,"transform":[{"filter":"datum.p=='aC4'"}],"encoding":{"x":{"field":"c","type":"nominal","sort":null,"axis":{"title":"FC"}},"color":{"field":"c"}},"layer":[{"mark":"rule","encoding":{"y":{"field":"lo","type":"quantitative","scale":{"domain":[0.735,1.0]},"axis":{"values":[0.8,0.9,1.0],"tickCount":10,"format":".1f","title":null}},"y2":{"field":"hi"}}},{"mark":"tick","encoding":{"y":{"field":"lo","type":"quantitative"},"size":{"value":6}}},{"mark":"tick","encoding":{"y":{"field":"hi","type":"quantitative"},"size":{"value":6}}},{"mark":"bar","encoding":{"y":{"field":"q1","type":"quantitative"},"y2":{"field":"q3"}}},{"mark":"bar","encoding":{"y":{"field":"md","type":"quantitative"},"y2":{"field":"md"}}}]},
{"width":83,"height":79,"transform":[{"filter":"datum.p=='aC5'"}],"encoding":{"x":{"field":"c","type":"nominal","sort":null,"axis":{"title":"FC"}},"color":{"field":"c"}},"layer":[{"mark":"rule","encoding":{"y":{"field":"lo","type":"quantitative","scale":{"domain":[0.73,1.0]},"axis":{"values":[0.8,0.9,1.0],"tickCount":10,"format":".1f","title":null}},"y2":{"field":"hi"}}},{"mark":"tick","encoding":{"y":{"field":"lo","type":"quantitative"},"size":{"value":6}}},{"mark":"tick","encoding":{"y":{"field":"hi","type":"quantitative"},"size":{"value":6}}},{"mark":"bar","encoding":{"y":{"field":"q1","type":"quantitative"},"y2":{"field":"q3"}}},{"mark":"bar","encoding":{"y":{"field":"md","type":"quantitative"},"y2":{"field":"md"}}}]}
]}
]},
{"title":{"text":"10-500 Hz","anchor":"middle","offset":8,"dx":27},"spacing":28,"vconcat":[
{"columns":5,"bounds":"flush","spacing":{"row":14,"column":23},"concat":[
{"width":83,"height":77,"title":"-10 dB","transform":[{"filter":"datum.p=='bF1'"}],"layer":[{"mark":"rect","encoding":{"y":{"field":"b1","type":"quantitative","scale":{"domain":[53,218]},"axis":{"values":[80,120,160,200],"tickCount":10,"format":"d","title":null}},"y2":{"field":"b2"}}},{"encoding":{"x":{"field":"c","type":"nominal","sort":null,"axis":{"labels":false,"title":null}},"color":{"field":"c"}},"layer":[{"mark":"rule","encoding":{"y":{"field":"lo","type":"quantitative"},"y2":{"field":"hi"}}},{"mark":"tick","encoding":{"y":{"field":"lo","type":"quantitative"},"size":{"value":6}}},{"mark":"tick","encoding":{"y":{"field":"hi","type":"quantitative"},"size":{"value":6}}},{"mark":"bar","encoding":{"y":{"field":"q1","type":"quantitative"},"y2":{"field":"q3"}}},{"mark":"bar","encoding":{"y":{"field":"md","type":"quantitative"},"y2":{"field":"md"}}},{"mark":"text","encoding":{"y":{"value":0},"text":{"field":"st"},"color":{"value":"#333333"}}}]}]},
{"width":83,"height":77,"title":"-5 dB","transform":[{"filter":"datum.p=='bF2'"}],"layer":[{"mark":"rect","encoding":{"y":{"field":"b1","type":"quantitative","scale":{"domain":[55,220]},"axis":{"values":[80,120,160,200],"tickCount":10,"format":"d","title":null}},"y2":{"field":"b2"}}},{"encoding":{"x":{"field":"c","type":"nominal","sort":null,"axis":{"labels":false,"title":null}},"color":{"field":"c"}},"layer":[{"mark":"rule","encoding":{"y":{"field":"lo","type":"quantitative"},"y2":{"field":"hi"}}},{"mark":"tick","encoding":{"y":{"field":"lo","type":"quantitative"},"size":{"value":6}}},{"mark":"tick","encoding":{"y":{"field":"hi","type":"quantitative"},"size":{"value":6}}},{"mark":"bar","encoding":{"y":{"field":"q1","type":"quantitative"},"y2":{"field":"q3"}}},{"mark":"bar","encoding":{"y":{"field":"md","type":"quantitative"},"y2":{"field":"md"}}},{"mark":"text","encoding":{"y":{"value":0},"text":{"field":"st"},"color":{"value":"#333333"}}}]}]},
{"width":83,"height":77,"title":"1 dB","transform":[{"filter":"datum.p=='bF3'"}],"layer":[{"mark":"rect","encoding":{"y":{"field":"b1","type":"quantitative","scale":{"domain":[61,219]},"axis":{"values":[80,120,160,200],"tickCount":10,"format":"d","title":null}},"y2":{"field":"b2"}}},{"encoding":{"x":{"field":"c","type":"nominal","sort":null,"axis":{"labels":false,"title":null}},"color":{"field":"c"}},"layer":[{"mark":"rule","encoding":{"y":{"field":"lo","type":"quantitative"},"y2":{"field":"hi"}}},{"mark":"tick","encoding":{"y":{"field":"lo","type":"quantitative"},"size":{"value":6}}},{"mark":"tick","encoding":{"y":{"field":"hi","type":"quantitative"},"size":{"value":6}}},{"mark":"bar","encoding":{"y":{"field":"q1","type":"quantitative"},"y2":{"field":"q3"}}},{"mark":"bar","encoding":{"y":{"field":"md","type":"quantitative"},"y2":{"field":"md"}}},{"mark":"text","encoding":{"y":{"value":0},"text":{"field":"st"},"color":{"value":"#333333"}}}]}]},
{"width":83,"height":77,"title":"5 dB","transform":[{"filter":"datum.p=='bF4'"}],"layer":[{"mark":"rect","encoding":{"y":{"field":"b1","type":"quantitative","scale":{"domain":[61,219]},"axis":{"values":[80,120,160,200],"tickCount":10,"format":"d","title":null}},"y2":{"field":"b2"}}},{"encoding":{"x":{"field":"c","type":"nominal","sort":null,"axis":{"labels":false,"title":null}},"color":{"field":"c"}},"layer":[{"mark":"rule","encoding":{"y":{"field":"lo","type":"quantitative"},"y2":{"field":"hi"}}},{"mark":"tick","encoding":{"y":{"field":"lo","type":"quantitative"},"size":{"value":6}}},{"mark":"tick","encoding":{"y":{"field":"hi","type":"quantitative"},"size":{"value":6}}},{"mark":"bar","encoding":{"y":{"field":"q1","type":"quantitative"},"y2":{"field":"q3"}}},{"mark":"bar","encoding":{"y":{"field":"md","type":"quantitative"},"y2":{"field":"md"}}},{"mark":"text","encoding":{"y":{"value":0},"text":{"field":"st"},"color":{"value":"#333333"}}}]}]},
{"width":83,"height":77,"title":"10 dB","transform":[{"filter":"datum.p=='bF5'"}],"layer":[{"mark":"rect","encoding":{"y":{"field":"b1","type":"quantitative","scale":{"domain":[80,219]},"axis":{"values":[80,120,160,200],"tickCount":10,"format":"d","title":null}},"y2":{"field":"b2"}}},{"encoding":{"x":{"field":"c","type":"nominal","sort":null,"axis":{"labels":false,"title":null}},"color":{"field":"c"}},"layer":[{"mark":"rule","encoding":{"y":{"field":"lo","type":"quantitative"},"y2":{"field":"hi"}}},{"mark":"tick","encoding":{"y":{"field":"lo","type":"quantitative"},"size":{"value":6}}},{"mark":"tick","encoding":{"y":{"field":"hi","type":"quantitative"},"size":{"value":6}}},{"mark":"bar","encoding":{"y":{"field":"q1","type":"quantitative"},"y2":{"field":"q3"}}},{"mark":"bar","encoding":{"y":{"field":"md","type":"quantitative"},"y2":{"field":"md"}}},{"mark":"text","encoding":{"y":{"value":0},"text":{"field":"st"},"color":{"value":"#333333"}}}]}]},
{"width":83,"height":77,"transform":[{"filter":"datum.p=='bE1'"}],"layer":[{"mark":"rect","encoding":{"y":{"field":"b1","type":"quantitative","scale":{"domain":[2.99,4.09]},"axis":{"values":[3.0,3.3,3.6,3.9],"tickCount":10,"format":".1f","title":null}},"y2":{"field":"b2"}}},{"encoding":{"x":{"field":"c","type":"nominal","sort":null,"axis":{"title":null}},"color":{"field":"c"}},"layer":[{"mark":"rule","encoding":{"y":{"field":"lo","type":"quantitative"},"y2":{"field":"hi"}}},{"mark":"tick","encoding":{"y":{"field":"lo","type":"quantitative"},"size":{"value":6}}},{"mark":"tick","encoding":{"y":{"field":"hi","type":"quantitative"},"size":{"value":6}}},{"mark":"bar","encoding":{"y":{"field":"q1","type":"quantitative"},"y2":{"field":"q3"}}},{"mark":"bar","encoding":{"y":{"field":"md","type":"quantitative"},"y2":{"field":"md"}}},{"mark":"text","encoding":{"y":{"value":0},"text":{"field":"st"},"color":{"value":"#333333"}}}]}]},
{"width":83,"height":77,"transform":[{"filter":"datum.p=='bE2'"}],"layer":[{"mark":"rect","encoding":{"y":{"field":"b1","type":"quantitative","scale":{"domain":[2.99,4.09]},"axis":{"values":[3.0,3.3,3.6,3.9],"tickCount":10,"format":".1f","title":null}},"y2":{"field":"b2"}}},{"encoding":{"x":{"field":"c","type":"nominal","sort":null,"axis":{"title":null}},"color":{"field":"c"}},"layer":[{"mark":"rule","encoding":{"y":{"field":"lo","type":"quantitative"},"y2":{"field":"hi"}}},{"mark":"tick","encoding":{"y":{"field":"lo","type":"quantitative"},"size":{"value":6}}},{"mark":"tick","encoding":{"y":{"field":"hi","type":"quantitative"},"size":{"value":6}}},{"mark":"bar","encoding":{"y":{"field":"q1","type":"quantitative"},"y2":{"field":"q3"}}},{"mark":"bar","encoding":{"y":{"field":"md","type":"quantitative"},"y2":{"field":"md"}}},{"mark":"text","encoding":{"y":{"value":0},"text":{"field":"st"},"color":{"value":"#333333"}}}]}]},
{"width":83,"height":77,"transform":[{"filter":"datum.p=='bE3'"}],"layer":[{"mark":"rect","encoding":{"y":{"field":"b1","type":"quantitative","scale":{"domain":[2.99,4.09]},"axis":{"values":[3.0,3.3,3.6,3.9],"tickCount":10,"format":".1f","title":null}},"y2":{"field":"b2"}}},{"encoding":{"x":{"field":"c","type":"nominal","sort":null,"axis":{"title":null}},"color":{"field":"c"}},"layer":[{"mark":"rule","encoding":{"y":{"field":"lo","type":"quantitative"},"y2":{"field":"hi"}}},{"mark":"tick","encoding":{"y":{"field":"lo","type":"quantitative"},"size":{"value":6}}},{"mark":"tick","encoding":{"y":{"field":"hi","type":"quantitative"},"size":{"value":6}}},{"mark":"bar","encoding":{"y":{"field":"q1","type":"quantitative"},"y2":{"field":"q3"}}},{"mark":"bar","encoding":{"y":{"field":"md","type":"quantitative"},"y2":{"field":"md"}}},{"mark":"text","encoding":{"y":{"value":0},"text":{"field":"st"},"color":{"value":"#333333"}}}]}]},
{"width":83,"height":77,"transform":[{"filter":"datum.p=='bE4'"}],"layer":[{"mark":"rect","encoding":{"y":{"field":"b1","type":"quantitative","scale":{"domain":[2.99,4.09]},"axis":{"values":[3.0,3.3,3.6,3.9],"tickCount":10,"format":".1f","title":null}},"y2":{"field":"b2"}}},{"encoding":{"x":{"field":"c","type":"nominal","sort":null,"axis":{"title":null}},"color":{"field":"c"}},"layer":[{"mark":"rule","encoding":{"y":{"field":"lo","type":"quantitative"},"y2":{"field":"hi"}}},{"mark":"tick","encoding":{"y":{"field":"lo","type":"quantitative"},"size":{"value":6}}},{"mark":"tick","encoding":{"y":{"field":"hi","type":"quantitative"},"size":{"value":6}}},{"mark":"bar","encoding":{"y":{"field":"q1","type":"quantitative"},"y2":{"field":"q3"}}},{"mark":"bar","encoding":{"y":{"field":"md","type":"quantitative"},"y2":{"field":"md"}}},{"mark":"text","encoding":{"y":{"value":0},"text":{"field":"st"},"color":{"value":"#333333"}}}]}]},
{"width":83,"height":77,"transform":[{"filter":"datum.p=='bE5'"}],"layer":[{"mark":"rect","encoding":{"y":{"field":"b1","type":"quantitative","scale":{"domain":[2.99,4.09]},"axis":{"values":[3.0,3.3,3.6,3.9],"tickCount":10,"format":".1f","title":null}},"y2":{"field":"b2"}}},{"encoding":{"x":{"field":"c","type":"nominal","sort":null,"axis":{"title":null}},"color":{"field":"c"}},"layer":[{"mark":"rule","encoding":{"y":{"field":"lo","type":"quantitative"},"y2":{"field":"hi"}}},{"mark":"tick","encoding":{"y":{"field":"lo","type":"quantitative"},"size":{"value":6}}},{"mark":"tick","encoding":{"y":{"field":"hi","type":"quantitative"},"size":{"value":6}}},{"mark":"bar","encoding":{"y":{"field":"q1","type":"quantitative"},"y2":{"field":"q3"}}},{"mark":"bar","encoding":{"y":{"field":"md","type":"quantitative"},"y2":{"field":"md"}}},{"mark":"text","encoding":{"y":{"value":0},"text":{"field":"st"},"color":{"value":"#333333"}}}]}]}
]},
{"columns":5,"bounds":"flush","spacing":{"row":12.5,"column":23},"concat":[
{"width":83,"height":77,"transform":[{"filter":"datum.p=='bI1'"}],"encoding":{"x":{"field":"c","type":"nominal","sort":null,"axis":{"labels":false,"title":null}},"color":{"field":"c"}},"layer":[{"mark":"rule","encoding":{"y":{"field":"lo","type":"quantitative","scale":{"domain":[0.65,1.0]},"axis":{"values":[0.7,0.8,0.9,1.0],"tickCount":10,"format":".1f","title":null}},"y2":{"field":"hi"}}},{"mark":"tick","encoding":{"y":{"field":"lo","type":"quantitative"},"size":{"value":6}}},{"mark":"tick","encoding":{"y":{"field":"hi","type":"quantitative"},"size":{"value":6}}},{"mark":"bar","encoding":{"y":{"field":"q1","type":"quantitative"},"y2":{"field":"q3"}}},{"mark":"bar","encoding":{"y":{"field":"md","type":"quantitative"},"y2":{"field":"md"}}}]},
{"width":83,"height":77,"transform":[{"filter":"datum.p=='bI2'"}],"encoding":{"x":{"field":"c","type":"nominal","sort":null,"axis":{"labels":false,"title":null}},"color":{"field":"c"}},"layer":[{"mark":"rule","encoding":{"y":{"field":"lo","type":"quantitative","scale":{"domain":[0.7,1.0]},"axis":{"values":[0.7,0.8,0.9,1.0],"tickCount":10,"format":".1f","title":null}},"y2":{"field":"hi"}}},{"mark":"tick","encoding":{"y":{"field":"lo","type":"quantitative"},"size":{"value":6}}},{"mark":"tick","encoding":{"y":{"field":"hi","type":"quantitative"},"size":{"value":6}}},{"mark":"bar","encoding":{"y":{"field":"q1","type":"quantitative"},"y2":{"field":"q3"}}},{"mark":"bar","encoding":{"y":{"field":"md","type":"quantitative"},"y2":{"field":"md"}}}]},
{"width":83,"height":77,"transform":[{"filter":"datum.p=='bI3'"}],"encoding":{"x":{"field":"c","type":"nominal","sort":null,"axis":{"labels":false,"title":null}},"color":{"field":"c"}},"layer":[{"mark":"rule","encoding":{"y":{"field":"lo","type":"quantitative","scale":{"domain":[0.8,1.0]},"axis":{"values":[0.8,0.9,1.0],"tickCount":10,"format":".1f","title":null}},"y2":{"field":"hi"}}},{"mark":"tick","encoding":{"y":{"field":"lo","type":"quantitative"},"size":{"value":6}}},{"mark":"tick","encoding":{"y":{"field":"hi","type":"quantitative"},"size":{"value":6}}},{"mark":"bar","encoding":{"y":{"field":"q1","type":"quantitative"},"y2":{"field":"q3"}}},{"mark":"bar","encoding":{"y":{"field":"md","type":"quantitative"},"y2":{"field":"md"}}}]},
{"width":83,"height":77,"transform":[{"filter":"datum.p=='bI4'"}],"encoding":{"x":{"field":"c","type":"nominal","sort":null,"axis":{"labels":false,"title":null}},"color":{"field":"c"}},"layer":[{"mark":"rule","encoding":{"y":{"field":"lo","type":"quantitative","scale":{"domain":[0.8,1.0]},"axis":{"values":[0.8,0.9,1.0],"tickCount":10,"format":".1f","title":null}},"y2":{"field":"hi"}}},{"mark":"tick","encoding":{"y":{"field":"lo","type":"quantitative"},"size":{"value":6}}},{"mark":"tick","encoding":{"y":{"field":"hi","type":"quantitative"},"size":{"value":6}}},{"mark":"bar","encoding":{"y":{"field":"q1","type":"quantitative"},"y2":{"field":"q3"}}},{"mark":"bar","encoding":{"y":{"field":"md","type":"quantitative"},"y2":{"field":"md"}}}]},
{"width":83,"height":77,"transform":[{"filter":"datum.p=='bI5'"}],"encoding":{"x":{"field":"c","type":"nominal","sort":null,"axis":{"labels":false,"title":null}},"color":{"field":"c"}},"layer":[{"mark":"rule","encoding":{"y":{"field":"lo","type":"quantitative","scale":{"domain":[0.8,1.0]},"axis":{"values":[0.8,0.9,1.0],"tickCount":10,"format":".1f","title":null}},"y2":{"field":"hi"}}},{"mark":"tick","encoding":{"y":{"field":"lo","type":"quantitative"},"size":{"value":6}}},{"mark":"tick","encoding":{"y":{"field":"hi","type":"quantitative"},"size":{"value":6}}},{"mark":"bar","encoding":{"y":{"field":"q1","type":"quantitative"},"y2":{"field":"q3"}}},{"mark":"bar","encoding":{"y":{"field":"md","type":"quantitative"},"y2":{"field":"md"}}}]},
{"width":83,"height":77,"transform":[{"filter":"datum.p=='bD1'"}],"encoding":{"x":{"field":"c","type":"nominal","sort":null,"axis":{"labels":false,"title":null}},"color":{"field":"c"}},"layer":[{"mark":"rule","encoding":{"y":{"field":"lo","type":"quantitative","scale":{"domain":[-0.1,2.48]},"axis":{"values":[0,1,2],"tickCount":10,"format":"d","title":null}},"y2":{"field":"hi"}}},{"mark":"tick","encoding":{"y":{"field":"lo","type":"quantitative"},"size":{"value":6}}},{"mark":"tick","encoding":{"y":{"field":"hi","type":"quantitative"},"size":{"value":6}}},{"mark":"bar","encoding":{"y":{"field":"q1","type":"quantitative"},"y2":{"field":"q3"}}},{"mark":"bar","encoding":{"y":{"field":"md","type":"quantitative"},"y2":{"field":"md"}}}]},
{"width":83,"height":77,"transform":[{"filter":"datum.p=='bD2'"}],"encoding":{"x":{"field":"c","type":"nominal","sort":null,"axis":{"labels":false,"title":null}},"color":{"field":"c"}},"layer":[{"mark":"rule","encoding":{"y":{"field":"lo","type":"quantitative","scale":{"domain":[-0.085,1.5]},"axis":{"values":[0,0.4,0.8,1.2],"tickCount":10,"format":".1f","title":null}},"y2":{"field":"hi"}}},{"mark":"tick","encoding":{"y":{"field":"lo","type":"quantitative"},"size":{"value":6}}},{"mark":"tick","encoding":{"y":{"field":"hi","type":"quantitative"},"size":{"value":6}}},{"mark":"bar","encoding":{"y":{"field":"q1","type":"quantitative"},"y2":{"field":"q3"}}},{"mark":"bar","encoding":{"y":{"field":"md","type":"quantitative"},"y2":{"field":"md"}}}]},
{"width":83,"height":77,"transform":[{"filter":"datum.p=='bD3'"}],"encoding":{"x":{"field":"c","type":"nominal","sort":null,"axis":{"labels":false,"title":null}},"color":{"field":"c"}},"layer":[{"mark":"rule","encoding":{"y":{"field":"lo","type":"quantitative","scale":{"domain":[-0.13,0.79]},"axis":{"values":[0,0.3,0.6],"tickCount":10,"format":".1f","title":null}},"y2":{"field":"hi"}}},{"mark":"tick","encoding":{"y":{"field":"lo","type":"quantitative"},"size":{"value":6}}},{"mark":"tick","encoding":{"y":{"field":"hi","type":"quantitative"},"size":{"value":6}}},{"mark":"bar","encoding":{"y":{"field":"q1","type":"quantitative"},"y2":{"field":"q3"}}},{"mark":"bar","encoding":{"y":{"field":"md","type":"quantitative"},"y2":{"field":"md"}}}]},
{"width":83,"height":77,"transform":[{"filter":"datum.p=='bD4'"}],"encoding":{"x":{"field":"c","type":"nominal","sort":null,"axis":{"labels":false,"title":null}},"color":{"field":"c"}},"layer":[{"mark":"rule","encoding":{"y":{"field":"lo","type":"quantitative","scale":{"domain":[-0.09,0.88]},"axis":{"values":[0,0.4,0.8],"tickCount":10,"format":".1f","title":null}},"y2":{"field":"hi"}}},{"mark":"tick","encoding":{"y":{"field":"lo","type":"quantitative"},"size":{"value":6}}},{"mark":"tick","encoding":{"y":{"field":"hi","type":"quantitative"},"size":{"value":6}}},{"mark":"bar","encoding":{"y":{"field":"q1","type":"quantitative"},"y2":{"field":"q3"}}},{"mark":"bar","encoding":{"y":{"field":"md","type":"quantitative"},"y2":{"field":"md"}}}]},
{"width":83,"height":77,"transform":[{"filter":"datum.p=='bD5'"}],"encoding":{"x":{"field":"c","type":"nominal","sort":null,"axis":{"labels":false,"title":null}},"color":{"field":"c"}},"layer":[{"mark":"rule","encoding":{"y":{"field":"lo","type":"quantitative","scale":{"domain":[-0.11,1.07]},"axis":{"values":[0,0.4,0.8],"tickCount":10,"format":".1f","title":null}},"y2":{"field":"hi"}}},{"mark":"tick","encoding":{"y":{"field":"lo","type":"quantitative"},"size":{"value":6}}},{"mark":"tick","encoding":{"y":{"field":"hi","type":"quantitative"},"size":{"value":6}}},{"mark":"bar","encoding":{"y":{"field":"q1","type":"quantitative"},"y2":{"field":"q3"}}},{"mark":"bar","encoding":{"y":{"field":"md","type":"quantitative"},"y2":{"field":"md"}}}]},
{"width":83,"height":79,"transform":[{"filter":"datum.p=='bC1'"}],"encoding":{"x":{"field":"c","type":"nominal","sort":null,"axis":{"title":"FC"}},"color":{"field":"c"}},"layer":[{"mark":"rule","encoding":{"y":{"field":"lo","type":"quantitative","scale":{"domain":[0.48,1.0]},"axis":{"values":[0.6,0.8,1.0],"tickCount":10,"format":".1f","title":null}},"y2":{"field":"hi"}}},{"mark":"tick","encoding":{"y":{"field":"lo","type":"quantitative"},"size":{"value":6}}},{"mark":"tick","encoding":{"y":{"field":"hi","type":"quantitative"},"size":{"value":6}}},{"mark":"bar","encoding":{"y":{"field":"q1","type":"quantitative"},"y2":{"field":"q3"}}},{"mark":"bar","encoding":{"y":{"field":"md","type":"quantitative"},"y2":{"field":"md"}}}]},
{"width":83,"height":79,"transform":[{"filter":"datum.p=='bC2'"}],"encoding":{"x":{"field":"c","type":"nominal","sort":null,"axis":{"title":"FC"}},"color":{"field":"c"}},"layer":[{"mark":"rule","encoding":{"y":{"field":"lo","type":"quantitative","scale":{"domain":[0.72,1.0]},"axis":{"values":[0.8,0.9,1.0],"tickCount":10,"format":".1f","title":null}},"y2":{"field":"hi"}}},{"mark":"tick","encoding":{"y":{"field":"lo","type":"quantitative"},"size":{"value":6}}},{"mark":"tick","encoding":{"y":{"field":"hi","type":"quantitative"},"size":{"value":6}}},{"mark":"bar","encoding":{"y":{"field":"q1","type":"quantitative"},"y2":{"field":"q3"}}},{"mark":"bar","encoding":{"y":{"field":"md","type":"quantitative"},"y2":{"field":"md"}}}]},
{"width":83,"height":79,"transform":[{"filter":"datum.p=='bC3'"}],"encoding":{"x":{"field":"c","type":"nominal","sort":null,"axis":{"title":"FC"}},"color":{"field":"c"}},"layer":[{"mark":"rule","encoding":{"y":{"field":"lo","type":"quantitative","scale":{"domain":[0.9,1.0]},"axis":{"values":[0.92,0.96,1.0],"tickCount":10,"format":".2f","title":null}},"y2":{"field":"hi"}}},{"mark":"tick","encoding":{"y":{"field":"lo","type":"quantitative"},"size":{"value":6}}},{"mark":"tick","encoding":{"y":{"field":"hi","type":"quantitative"},"size":{"value":6}}},{"mark":"bar","encoding":{"y":{"field":"q1","type":"quantitative"},"y2":{"field":"q3"}}},{"mark":"bar","encoding":{"y":{"field":"md","type":"quantitative"},"y2":{"field":"md"}}}]},
{"width":83,"height":79,"transform":[{"filter":"datum.p=='bC4'"}],"encoding":{"x":{"field":"c","type":"nominal","sort":null,"axis":{"title":"FC"}},"color":{"field":"c"}},"layer":[{"mark":"rule","encoding":{"y":{"field":"lo","type":"quantitative","scale":{"domain":[0.949,1.0]},"axis":{"values":[0.96,0.98,1.0],"tickCount":10,"format":".2f","title":null}},"y2":{"field":"hi"}}},{"mark":"tick","encoding":{"y":{"field":"lo","type":"quantitative"},"size":{"value":6}}},{"mark":"tick","encoding":{"y":{"field":"hi","type":"quantitative"},"size":{"value":6}}},{"mark":"bar","encoding":{"y":{"field":"q1","type":"quantitative"},"y2":{"field":"q3"}}},{"mark":"bar","encoding":{"y":{"field":"md","type":"quantitative"},"y2":{"field":"md"}}}]},
{"width":83,"height":79,"transform":[{"filter":"datum.p=='bC5'"}],"encoding":{"x":{"field":"c","type":"nominal","sort":null,"axis":{"title":"FC"}},"color":{"field":"c"}},"layer":[{"mark":"rule","encoding":{"y":{"field":"lo","type":"quantitative","scale":{"domain":[0.949,1.0]},"axis":{"values":[0.96,0.98,1.0],"tickCount":10,"format":".2f","title":null}},"y2":{"field":"hi"}}},{"mark":"tick","encoding":{"y":{"field":"lo","type":"quantitative"},"size":{"value":6}}},{"mark":"tick","encoding":{"y":{"field":"hi","type":"quantitative"},"size":{"value":6}}},{"mark":"bar","encoding":{"y":{"field":"q1","type":"quantitative"},"y2":{"field":"q3"}}},{"mark":"bar","encoding":{"y":{"field":"md","type":"quantitative"},"y2":{"field":"md"}}}]}
]}
]}
]
}
